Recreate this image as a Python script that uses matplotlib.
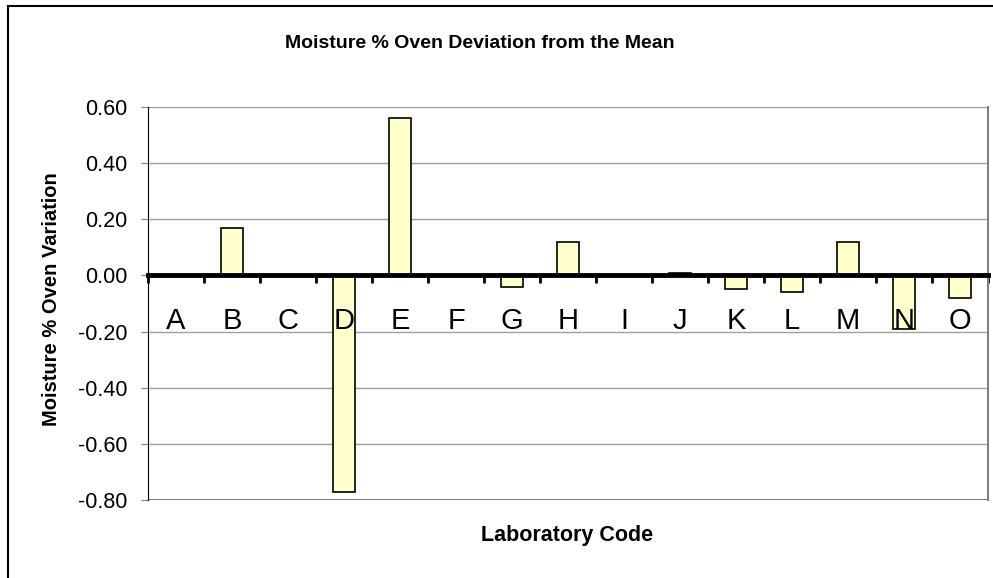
import matplotlib.pyplot as plt
import matplotlib.transforms as mtransforms
import numpy as np
from matplotlib.patches import Rectangle

labs = ["A", "B", "C", "D", "E", "F", "G", "H", "I", "J", "K", "L", "M", "N", "O"]
dev = [0.0, 0.17, 0.0, -0.77, 0.56, 0.0, -0.04, 0.12, 0.0, 0.01, -0.05, -0.06, 0.12, -0.19, -0.08]
yticks = [-0.8, -0.6, -0.4, -0.2, 0.0, 0.2, 0.4, 0.6]

plt.rcParams['font.family'] = ['Liberation Sans', 'DejaVu Sans']

fig = plt.figure(figsize=(9.93, 5.78), dpi=100)
fig.patches.append(Rectangle((8/993, -0.05), 1.2, 1 - 6/578 + 0.05, transform=fig.transFigure,
                             fill=False, edgecolor="black", linewidth=1.5))
ax = fig.add_axes([148/993, 1 - 500/578, 840/993, 393/578])

x = np.arange(len(labs))
ax.bar(x, dev, width=0.4, color="#ffffcc", edgecolor="black", linewidth=1.2, zorder=3)

ax.set_xlim(-0.5, len(labs) - 0.5)
ax.set_ylim(-0.8, 0.6)
ax.set_yticks(yticks)
ax.set_yticklabels([f"{v:.2f}" for v in yticks], fontsize=15.5)
ax.yaxis.grid(True, color="#a0a0a0", linewidth=1)
ax.set_axisbelow(True)
ax.tick_params(axis="y", length=5, color="#808080", pad=10)

# x axis on zero, ticks between the groups
ax.spines["bottom"].set_position(("data", 0))
ax.spines["bottom"].set_linewidth(3.5)
ax.spines["bottom"].set_zorder(4)
ax.set_xticks(np.arange(len(labs) + 1) - 0.5)
ax.set_xticklabels([])
ax.tick_params(axis="x", which="major", direction="out", length=6, width=2, color="black")

# letters drawn on top of the bars, as in the original
off = mtransforms.offset_copy(ax.transData, fig=fig, x=0, y=-54, units="dots")
for i, lab in enumerate(labs):
    ax.text(x[i], 0, lab, transform=off, ha="center", va="baseline", fontsize=21, zorder=6)

ax.spines["left"].set_color("black")
ax.spines["top"].set_visible(False)
ax.spines["right"].set_color("#808080")
ax.spines["right"].set_linewidth(1.5)
ax.axhline(-0.8, color="#808080", linewidth=1.5, zorder=2)

fig.text(480/993, 1 - 43/578, "Moisture % Oven Deviation from the Mean", ha="center", va="center",
         fontsize=14, fontweight="bold")
fig.text(567/993, 1 - 535/578, "Laboratory Code", ha="center", va="center", fontsize=15.5, fontweight="bold")
fig.text(52/993, 1 - 299/578, "Moisture % Oven Variation", ha="center", va="center", rotation=90,
         fontsize=14.5, fontweight="bold")

plt.savefig("out.png", dpi=100)
